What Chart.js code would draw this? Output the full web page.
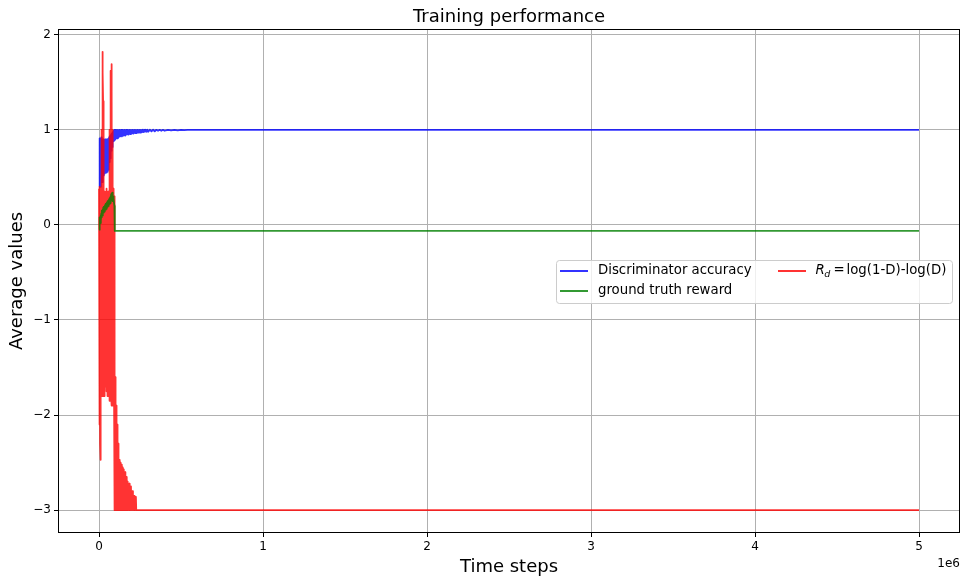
<!DOCTYPE html>
<html>
<head>
<meta charset="utf-8">
<script src="https://cdn.jsdelivr.net/npm/chart.js@4.4.1/dist/chart.umd.min.js"></script>
<style>
  body { margin: 0; background: #fff; }
  canvas { display: block; }
</style>
</head>
<body>
<canvas id="chart" width="961" height="581"></canvas>
<script>
// time steps are in thousands, scaled when the datasets are built
const accSteps = [
  0, 2, 4, 6, 8, 10, 12, 14, 16, 18, 20, 22, 24, 26, 28, 30, 32, 34, 36, 38, 40, 42, 44, 46, 48,
  50, 52, 54, 56, 58, 60, 62, 64, 66, 68, 70, 72, 74, 76, 78, 80, 82, 84, 86, 88, 90, 92, 94, 96, 98,
  100, 105, 110, 115, 120, 125, 130, 135, 140, 145, 150, 155, 160, 165, 170, 175, 180, 185, 190, 195,
  200, 205, 210, 215, 220, 225, 230, 235, 240, 245, 250, 255, 260, 265, 270, 275, 280, 285, 290, 295,
  300, 310, 320, 330, 340, 350, 360, 370, 380, 390, 400,
  420, 440, 460, 480, 500, 520, 540, 5000];
const accVals = [
  0.40, 0.90, 0.42, 0.91, 0.40, 0.90, 0.42, 0.92, 0.46, 0.90, 0.45, 0.88, 0.48, 0.90, 0.52, 0.88, 0.55, 0.89, 0.54, 0.90, 0.55, 0.89, 0.56, 0.90, 0.55,
  0.90, 0.56, 0.90, 0.58, 0.91, 0.60, 0.92, 0.66, 0.93, 0.70, 0.94, 0.74, 0.95, 0.78, 0.96, 0.82, 0.97, 0.86, 0.98, 0.88, 0.99, 0.89, 1.0, 0.90, 1.0,
  0.90, 1.0, 0.91, 1.0, 0.92, 1.0, 0.93, 1.0, 0.93, 1.0, 0.94, 1.0, 0.94, 1.0, 0.95, 1.0, 0.95, 1.0, 0.955, 1.0,
  0.96, 1.0, 0.96, 1.0, 0.965, 1.0, 0.965, 1.0, 0.97, 1.0, 0.97, 1.0, 0.975, 1.0, 0.975, 1.0, 0.98, 1.0, 0.98, 1.0,
  0.98, 1.0, 0.985, 1.0, 0.985, 1.0, 0.99, 1.0, 0.99, 1.0, 0.99,
  1.0, 0.993, 1.0, 0.995, 1.0, 0.997, 1.0, 1.0];

const gtSteps = [0, 2, 4, 6, 8, 10, 12, 14, 16, 18, 20, 22, 24, 26, 28, 30, 32, 34, 36, 38, 40, 42,
  44, 46, 48, 50, 52, 54, 56, 58, 60, 62, 64, 66, 68, 70, 72, 74, 76, 78, 80, 82, 84, 86, 88, 94, 96, 5000];
const gtVals = [-0.05, 0.05, -0.02, 0.08, 0.02, 0.10, 0.05, 0.12, 0.08, 0.15, 0.10, 0.16, 0.12, 0.18,
  0.13, 0.19, 0.14, 0.20, 0.15, 0.21, 0.16, 0.22, 0.17, 0.23, 0.18, 0.24, 0.19, 0.25, 0.20, 0.26,
  0.21, 0.27, 0.22, 0.28, 0.23, 0.30, 0.24, 0.32, 0.26, 0.33, 0.28, 0.34, 0.25, 0.30, 0.28, 0.20,
  -0.063, -0.063];

const rdSteps = [
  0, 1, 2, 3, 4, 5, 6, 7, 8, 9, 10, 11, 12, 13, 14,
  15, 16, 17, 18, 19, 20, 21, 22, 23, 24, 25, 26, 27, 28, 29,
  30, 31, 32, 33, 34, 35, 36, 37, 38, 39, 40, 41, 42, 43, 44, 45, 46, 47,
  48, 49, 50, 51, 52, 53, 54, 55, 56, 57, 58, 59, 60, 61, 62, 63, 64,
  65, 66, 67, 68, 69, 70, 71, 72, 73, 74, 75, 76, 77, 78, 79, 80, 81, 82, 83,
  84, 85, 86, 87, 88, 89, 90, 91, 92, 93, 94, 95, 96,
  97, 98, 99, 100, 101, 102, 103, 104, 105, 106, 107, 108, 109, 110, 111, 112, 113, 114, 115,
  116, 117, 118, 119, 120, 121, 123, 125, 127, 129, 131, 133, 137, 139, 143, 145, 151, 153,
  159, 161, 167, 169, 175, 177, 185, 187, 195, 197, 205, 207, 215, 217, 225, 227, 5000];
const rdVals = [
  0.38, -1.5, 0.40, -1.9, 0.36, -2.1, 0.38, -2.3, 0.35, -2.47, 0.30, -1.9, 0.38, -1.8, 0.2,
  -1.75, 0.6, -1.7, 1.0, -1.8, 1.4, 1.82, 1.82, -1.7, 1.6, 1.3, -1.75, 0.9, -1.7, 0.5,
  -1.8, 0.3, -1.7, 0.1, -1.75, 0.35, -1.8, -0.2, -1.7, 0.3, -1.65, 0.0, -1.7, 0.35, -1.6, 0.2, -1.75, 0.38,
  -1.7, 0.1, -1.8, 0.3, -1.65, 0.2, -1.7, 0.35, -1.75, 0.25, -1.8, 0.3, -1.7, 0.1, -1.85, 0.35, -1.75,
  0.6, -1.8, 1.0, -1.75, 1.3, -1.8, 1.5, -1.85, 1.62, -1.8, 1.69, -1.9, 1.6, -1.85, 1.4, -1.8, 1.0, -1.9, 0.6,
  -1.85, 0.35, -1.9, 0.2, -1.8, 0.38, -1.9, 0.1, -1.85, 0.3, -1.9, 0.0, -1.6,
  -3.0, -1.6, -3.0, -1.7, -3.0, -1.8, -3.0, -1.9, -3.0, -1.95, -3.0, -2.05, -3.0, -2.1, -3.0, -2.2, -3.0, -2.25, -3.0,
  -2.3, -3.0, -2.38, -3.0, -2.45, -3.0, -2.47, -3.0, -2.5, -3.0, -2.5, -3.0, -2.52, -3.0, -2.55, -3.0, -2.57, -3.0,
  -2.6, -3.0, -2.65, -3.0, -2.7, -3.0, -2.72, -3.0, -2.75, -3.0, -2.8, -3.0, -2.85, -3.0, -2.86, -3.0, -3.0];

const xTicks = [0, 1e6, 2e6, 3e6, 4e6, 5e6];
const yTicks = [-3, -2, -1, 0, 1, 2];

function pts(steps, vals) {
  return steps.map((s, i) => ({ x: s * 1000, y: vals[i] }));
}

const font = 'DejaVu Sans';

const decor = {
  id: 'decor',
  afterDatasetsDraw(chart) {
    const { ctx, chartArea: a } = chart;
    ctx.save();
    ctx.strokeStyle = '#000';
    ctx.lineWidth = 1;
    ctx.strokeRect(a.left + 0.5, a.top + 0.5, a.width - 1, a.height - 1);
    ctx.restore();
  },
  afterDraw(chart) {
    const { ctx, chartArea: a } = chart;
    ctx.save();
    ctx.fillStyle = '#000';
    ctx.textAlign = 'center';
    ctx.textBaseline = 'middle';
    ctx.font = '18px ' + font;
    ctx.fillText('Training performance', (a.left + a.right) / 2, 17);

    ctx.font = '12px ' + font;
    ctx.textAlign = 'right';
    ctx.fillText('1e6', 960, 564);

    // legend
    const bx = 556, by = 260, bw = 396, bh = 43;
    ctx.beginPath();
    ctx.roundRect(bx + 0.5, by + 0.5, bw, bh, 3);
    ctx.fillStyle = 'rgba(255,255,255,0.8)';
    ctx.fill();
    ctx.strokeStyle = '#cccccc';
    ctx.lineWidth = 1;
    ctx.stroke();

    const spots = [[560, 271], [560, 291], [778, 271]];
    ctx.textAlign = 'left';
    chart.data.datasets.forEach((ds, i) => {
      const [lx, ly] = spots[i];
      ctx.strokeStyle = ds.borderColor;
      ctx.lineWidth = 2;
      ctx.beginPath();
      ctx.moveTo(lx, ly);
      ctx.lineTo(lx + 28, ly);
      ctx.stroke();
      ctx.fillStyle = '#000';
      const tx = lx + 38;
      ctx.font = '13.3px ' + font;
      if (ds.label.startsWith('R_d')) {
        ctx.font = 'italic 13.3px ' + font;
        ctx.fillText('R', tx - 0.5, ly);
        const wR = ctx.measureText('R').width;
        ctx.font = 'italic 9.5px ' + font;
        ctx.fillText('d', tx - 1 + wR, ly + 4);
        ctx.font = '13.3px ' + font;
        ctx.fillText('=', tx + 17.5, ly);
        ctx.fillText(ds.label.slice(6), tx + 30.5, ly);
      } else {
        ctx.fillText(ds.label, tx, ly);
      }
    });
    ctx.restore();
  }
};

new Chart(document.getElementById('chart'), {
  type: 'line',
  data: {
    datasets: [
      { label: 'Discriminator accuracy', data: pts(accSteps, accVals), borderColor: 'rgba(0,0,255,0.8)', order: 2 },
      { label: 'ground truth reward', data: pts(gtSteps, gtVals), borderColor: 'rgba(0,128,0,0.8)', order: 0 },
      { label: 'R_d = log(1-D)-log(D)', data: pts(rdSteps, rdVals), borderColor: 'rgba(255,0,0,0.8)', order: 1 }
    ]
  },
  options: {
    responsive: false,
    animation: false,
    parsing: false,
    elements: {
      line: { borderWidth: 1.8, tension: 0, fill: false, borderJoinStyle: 'round', borderCapStyle: 'butt' },
      point: { radius: 0 }
    },
    layout: { padding: { top: 29, right: 1, left: 0, bottom: 0 } },
    plugins: { legend: { display: false }, title: { display: false }, tooltip: { enabled: false } },
    scales: {
      x: {
        type: 'linear',
        min: -250000,
        max: 5250000,
        afterBuildTicks: s => { s.ticks = xTicks.map(v => ({ value: v })); },
        afterFit: s => { s.height = 48; },
        border: { display: false },
        grid: { color: '#b0b0b0', lineWidth: 1, tickColor: '#000', tickLength: 4 },
        ticks: {
          color: '#000', font: { family: font, size: 12 }, padding: 3, maxRotation: 0,
          callback: v => String(v / 1e6)
        },
        title: { display: true, text: 'Time steps', color: '#000', font: { family: font, size: 18 }, padding: { top: 0, bottom: 3 } }
      },
      y: {
        min: -3.24,
        max: 2.06,
        afterBuildTicks: s => { s.ticks = yTicks.map(v => ({ value: v })); },
        afterFit: s => { s.width = 58; },
        border: { display: false },
        grid: { color: '#b0b0b0', lineWidth: 1, tickColor: '#000', tickLength: 4 },
        ticks: {
          color: '#000', font: { family: font, size: 12 }, padding: 3,
          callback: v => (v < 0 ? '\u2212' + Math.abs(v) : String(v))
        },
        title: { display: true, text: 'Average values', color: '#000', font: { family: font, size: 18 }, padding: { top: 6.5, bottom: 0 } }
      }
    }
  },
  plugins: [decor]
});
</script>
</body>
</html>
